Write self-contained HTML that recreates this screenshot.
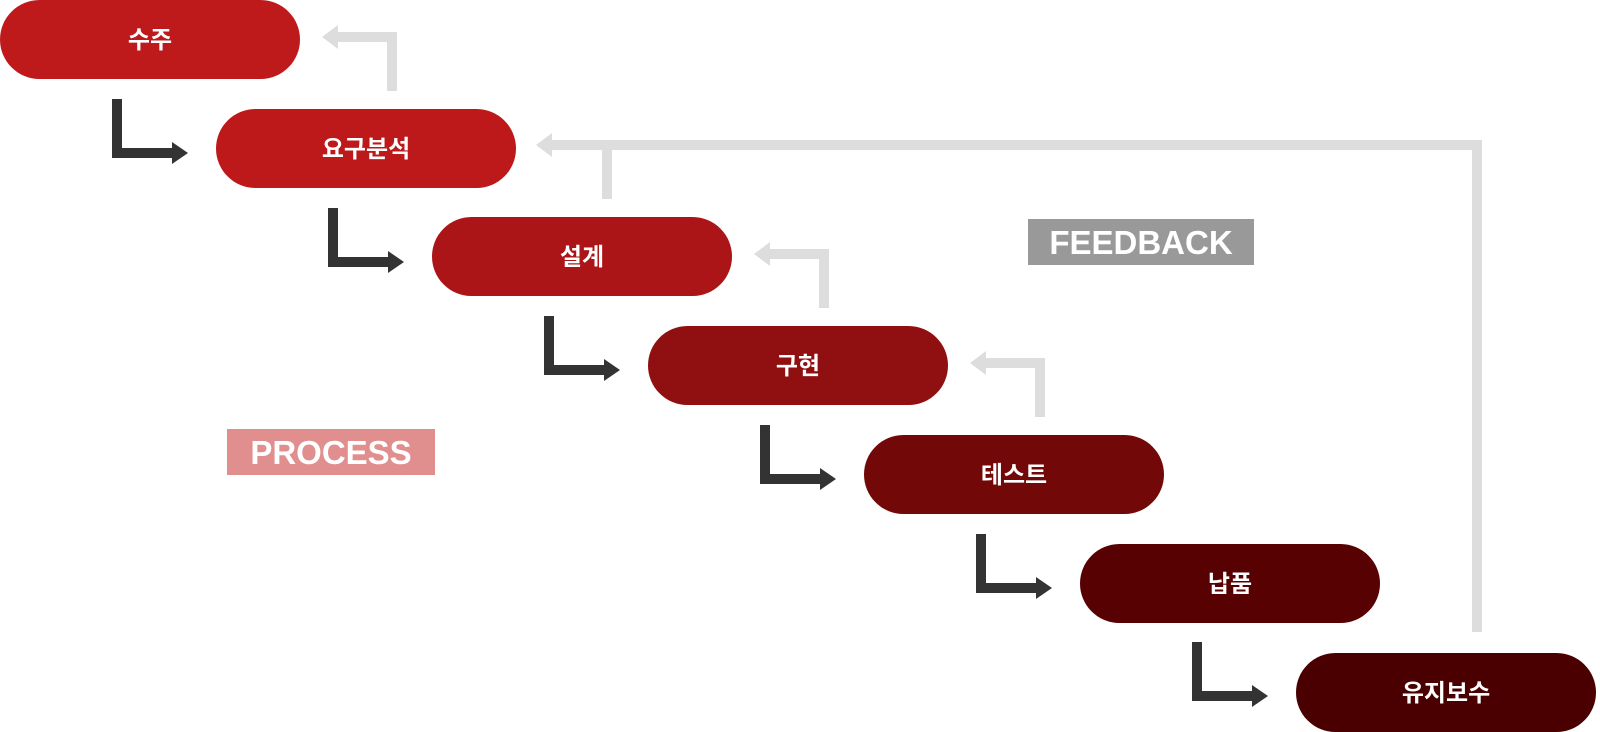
<!DOCTYPE html>
<html><head><meta charset="utf-8"><style>
html,body{margin:0;padding:0;background:#fff;width:1600px;height:732px;overflow:hidden}
svg{display:block}
text{font-family:"Liberation Sans","Noto Sans CJK KR",sans-serif;font-weight:bold;fill:#fff}
</style></head><body>
<svg width="1600" height="732" viewBox="0 0 1600 732">
<g fill="#dddddd">
  <rect x="387" y="32" width="10" height="59"/>
  <rect x="337" y="32" width="60" height="10"/>
  <polygon points="322,37 338,25 338,49"/>
  <rect x="1472" y="140" width="10" height="492"/>
  <rect x="551" y="140" width="931" height="10"/>
  <polygon points="536,145 552,133 552,157"/>
  <rect x="602" y="140" width="10" height="59"/>
  <rect x="819" y="249" width="10" height="59"/>
  <rect x="769" y="249" width="60" height="10"/>
  <polygon points="754,254 770,242 770,266"/>
  <rect x="1035" y="358" width="10" height="59"/>
  <rect x="985" y="358" width="60" height="10"/>
  <polygon points="970,363 986,351 986,375"/>
</g>
<g fill="#333333">
  <g id="da">
    <rect x="112" y="99" width="10" height="59"/>
    <rect x="112" y="148" width="62" height="10"/>
    <polygon points="172,142 188,153 172,164"/>
  </g>
  <use href="#da" transform="translate(216,109)"/>
  <use href="#da" transform="translate(432,217)"/>
  <use href="#da" transform="translate(648,326)"/>
  <use href="#da" transform="translate(864,435)"/>
  <use href="#da" transform="translate(1080,543)"/>
</g>
<rect x="0" y="0" width="300" height="79" rx="39.5" fill="#be1a1b"/>
<rect x="216" y="109" width="300" height="79" rx="39.5" fill="#bd181a"/>
<rect x="432" y="217" width="300" height="79" rx="39.5" fill="#ac1517"/>
<rect x="648" y="326" width="300" height="79" rx="39.5" fill="#900f10"/>
<rect x="864" y="435" width="300" height="79" rx="39.5" fill="#730808"/>
<rect x="1080" y="544" width="300" height="79" rx="39.5" fill="#580103"/>
<rect x="1296" y="653" width="300" height="79" rx="39.5" fill="#4a0000"/>
<g font-size="24" text-anchor="middle">
  <text x="150" y="48">수주</text>
  <text x="366" y="157">요구분석</text>
  <text x="582" y="265">설계</text>
  <text x="798" y="374">구현</text>
  <text x="1014" y="483">테스트</text>
  <text x="1230" y="592">납품</text>
  <text x="1446" y="701">유지보수</text>
</g>
<rect x="1028" y="219" width="226" height="46" fill="#999999"/>
<text x="1141" y="254" font-size="33" text-anchor="middle">FEEDBACK</text>
<rect x="227" y="429" width="208" height="46" fill="#e08e8e"/>
<text x="331" y="464" font-size="33" text-anchor="middle">PROCESS</text>
</svg>
</body></html>
